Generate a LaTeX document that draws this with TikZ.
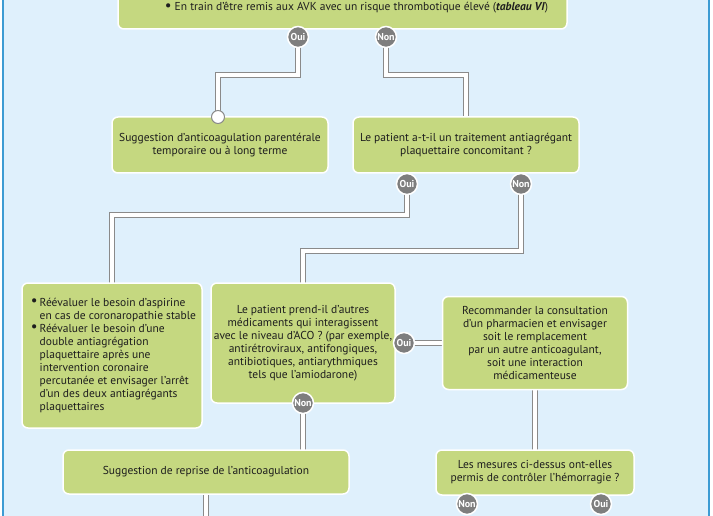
\documentclass[tikz,border=0pt]{standalone}
\usepackage{fontspec}
\setmainfont{PT Sans}
\definecolor{bgblue}{HTML}{DFF0FC}
\definecolor{edgeblue}{HTML}{3C9BD3}
\definecolor{boxgreen}{HTML}{C5D880}
\definecolor{dotgray}{HTML}{7E7E7E}
\definecolor{pipegray}{HTML}{8A8A8A}
\definecolor{txt}{HTML}{1E1E1E}
\pgfdeclarelayer{bg}\pgfdeclarelayer{pipes}\pgfsetlayers{bg,pipes,main}
\newcommand{\blt}{\raisebox{0.05ex}{\scalebox{1.3}{\textbullet}}}
\begin{document}
\begin{tikzpicture}[x=1pt,y=-1pt,
  box/.style={draw=white, line width=1.5pt, fill=boxgreen, rounded corners=6pt,
    inner sep=0pt, text=txt, font=\fontsize{11.5}{13}\selectfont, align=center},
  yn/.style={circle, draw=white, line width=1.5pt, fill=dotgray, minimum size=21pt,
    inner sep=0pt, text=white, font=\fontsize{10}{10}\selectfont\bfseries},
  pipe/.style={draw=pipegray, line width=1pt, double=white, double distance=4.5pt},
  enddot/.style={circle, draw=pipegray, fill=white, line width=1pt, minimum size=13pt, inner sep=0pt}]
\useasboundingbox (0,0) rectangle (713,516);
\begin{pgfonlayer}{bg}
  \fill[white] (0,0) rectangle (713,516);
  \fill[bgblue] (3,0) rectangle (709,516);
  \draw[edgeblue, line width=1.5pt] (3,0) -- (3,516);
  \draw[edgeblue, line width=1.5pt] (709,0) -- (709,516);
\end{pgfonlayer}

% boxes
\node[box, minimum width=449pt, minimum height=50pt] (top) at (342.5,4)
  {\raisebox{-6.5pt}[0pt][0pt]{\hspace*{28pt}\blt\ En train d'être remis aux AVK avec un risque thrombotique élevé (\textbf{\textit{tableau VI}})}};
\node[box, minimum width=216pt, minimum height=56pt] (sug) at (220,145)
  {Suggestion d'anticoagulation parentérale\\temporaire ou à long terme};
\node[box, minimum width=226pt, minimum height=56pt] (q2) at (466,145)
  {Le patient a-t-il un traitement antiagrégant\\plaquettaire concomitant ?};
\node[box, minimum width=180pt, minimum height=145pt, align=left] (left) at (112,355.5)
  {\hspace*{3pt}\begin{tabular}{@{}l@{\hspace{2pt}}l@{}}
   \blt & Réévaluer le besoin d'aspirine\\
       & en cas de coronaropathie stable\\
   \blt & Réévaluer le besoin d'une\\
       & double antiagrégation\\
       & plaquettaire après une\\
       & intervention coronaire\\
       & percutanée et envisager l'arrêt\\
       & d'un des deux antiagrégants\\
       & plaquettaires
   \end{tabular}};
\node[box, minimum width=184pt, minimum height=120pt] (mid) at (303,343)
  {Le patient prend-il d'autres\\médicaments qui interagissent\\avec le niveau d'ACO ? (par exemple,\\antirétroviraux, antifongiques,\\antibiotiques, antiarythmiques\\tels que l'amiodarone)};
\node[box, minimum width=185pt, minimum height=93pt] (right) at (535,343)
  {Recommander la consultation\\d'un pharmacien et envisager\\soit le remplacement\\par un autre anticoagulant,\\soit une interaction\\médicamenteuse};
\node[box, minimum width=286pt, minimum height=44pt] (reprise) at (206,472)
  {Suggestion de reprise de l'anticoagulation};
\node[box, minimum width=198pt, minimum height=45pt] (mesures) at (535,472.5)
  {Les mesures ci-dessus ont-elles\\permis de contrôler l'hémorragie ?};

% yes/no markers
\node[yn] (oui1) at (298,37) {Oui};
\node[yn] (non1) at (386,37) {Non};
\node[yn] (oui2) at (407,184) {Oui};
\node[yn] (non2) at (521,184) {Non};
\node[yn] (oui3) at (404,343) {Oui};
\node[yn] (non3) at (303,403) {Non};
\node[yn] (non4) at (467,504) {Non};
\node[yn] (oui4) at (601,504) {Oui};
\node[enddot] (dot) at (218,117) {};
\coordinate (bot) at (206,530);

\begin{pgfonlayer}{pipes}
  \draw[pipe] (oui1.center) -- ++(0,38) -| (dot.center);
  \draw[pipe] (non1.center) -- ++(0,38) -| (q2.center);
  \draw[pipe] (oui2.center) -- ++(0,31) -| (left.center);
  \draw[pipe] (non2.center) -- ++(0,67) -| (mid.center);
  \draw[pipe] (oui3.center) -- (right.center);
  \draw[pipe] (right.center) -- (mesures.center);
  \draw[pipe] (non3.center) -- (non3.center |- reprise.center);
  \draw[pipe] (reprise.center) -- (bot);
\end{pgfonlayer}
\end{tikzpicture}
\end{document}
